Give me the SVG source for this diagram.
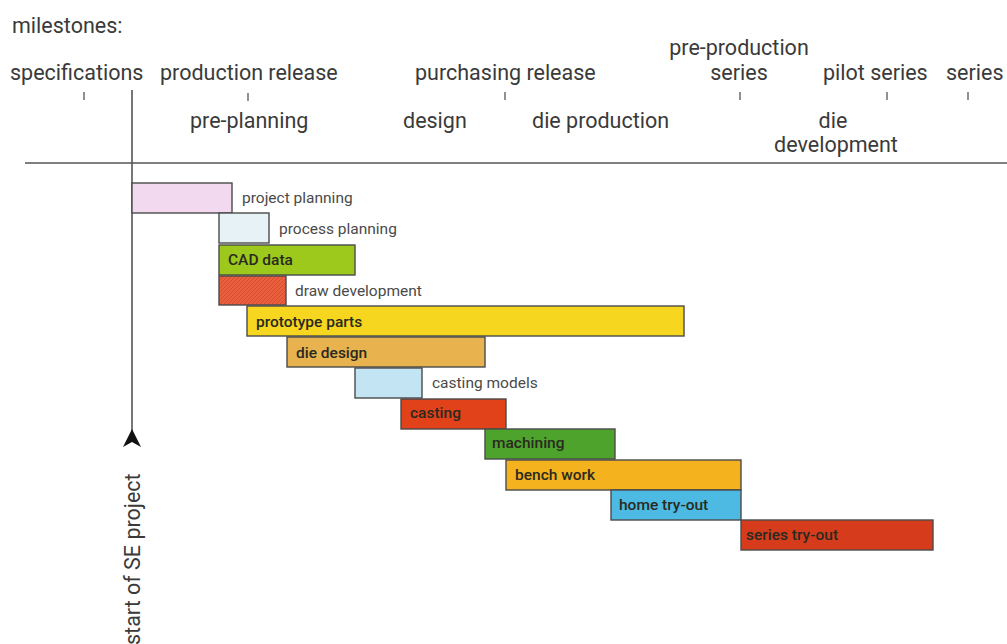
<svg xmlns="http://www.w3.org/2000/svg" width="1007" height="644" viewBox="0 0 1007 644">
<defs>
<style>
.t{font-family:Roboto,"Liberation Sans",sans-serif;fill:#3a3a3a;font-size:21.5px}
.lo{font-family:Roboto,"Liberation Sans",sans-serif;fill:#4a4a4a;font-size:15.5px}
.li{font-family:Roboto,"Liberation Sans",sans-serif;fill:#2a2a20;font-size:15.5px;font-weight:500}
.bar{stroke:#4a4a4a;stroke-width:1.4}
.tick{stroke:#555;stroke-width:1.3}
.axis{stroke:#555;stroke-width:1.6;fill:none}
</style>
<pattern id="hatch" width="4" height="4" patternUnits="userSpaceOnUse">
<rect width="4" height="4" fill="#e8603e"/>
<path d="M0 4L4 0" stroke="#d84a2c" stroke-width="1"/>
</pattern>
</defs>
<rect width="1007" height="644" fill="#ffffff"/>
<g id="milestones">
<text class="t" x="12" y="33">milestones:</text>
<text class="t" x="10" y="80">specifications</text>
<text class="t" x="160" y="80">production release</text>
<text class="t" x="415" y="80">purchasing release</text>
<text class="t" x="739" y="55" text-anchor="middle">pre-production</text>
<text class="t" x="739" y="80" text-anchor="middle">series</text>
<text class="t" x="823" y="80">pilot series</text>
<text class="t" x="946" y="80">series</text>
<text class="t" x="190" y="128">pre-planning</text>
<text class="t" x="403" y="128">design</text>
<text class="t" x="532" y="128">die production</text>
<text class="t" x="833" y="128" text-anchor="middle">die</text>
<text class="t" x="836" y="152" text-anchor="middle">development</text>
<line class="tick" x1="84" y1="92" x2="84" y2="100"/>
<line class="tick" x1="248" y1="93" x2="248" y2="101"/>
<line class="tick" x1="505" y1="92" x2="505" y2="100"/>
<line class="tick" x1="740" y1="92" x2="740" y2="100"/>
<line class="tick" x1="887" y1="92" x2="887" y2="100"/>
<line class="tick" x1="968" y1="92" x2="968" y2="100"/>
</g>
<g id="connectors">
<line class="axis" x1="25" y1="163" x2="1007" y2="163"/>
<line class="axis" x1="132" y1="90" x2="132" y2="440"/>
<path d="M132 429 L141 447 L132 442 L123 447 Z" fill="#111"/>
</g>
<g id="start">
<text class="t" transform="translate(140,645) rotate(-90)" x="0" y="0">start of SE project</text>
</g>
<g id="project-planning"><rect class="bar" x="132" y="183" width="100" height="30" fill="#f2d9f0"/><text class="lo" x="242" y="203">project planning</text></g>
<g id="process-planning"><rect class="bar" x="219" y="213" width="50" height="30" fill="#e6f2f6"/><text class="lo" x="279" y="234">process planning</text></g>
<g id="cad-data"><rect class="bar" x="219" y="245" width="136" height="30" fill="#9dc81c"/><text class="li" x="228" y="265">CAD data</text></g>
<g id="draw-development"><rect class="bar" x="219" y="276" width="67" height="29" fill="url(#hatch)"/><text class="lo" x="295" y="296">draw development</text></g>
<g id="prototype-parts"><rect class="bar" x="247" y="306" width="437" height="30" fill="#f7d61f"/><text class="li" x="256" y="327">prototype parts</text></g>
<g id="die-design"><rect class="bar" x="287" y="337" width="198" height="30" fill="#e8b24e"/><text class="li" x="296" y="358">die design</text></g>
<g id="casting-models"><rect class="bar" x="355" y="368" width="67" height="30" fill="#c3e4f3"/><text class="lo" x="432" y="388">casting models</text></g>
<g id="casting"><rect class="bar" x="401" y="399" width="105" height="30" fill="#e2421a"/><text class="li" x="410" y="418">casting</text></g>
<g id="machining"><rect class="bar" x="485" y="429" width="130" height="30" fill="#4ea32c"/><text class="li" x="492" y="448">machining</text></g>
<g id="bench-work"><rect class="bar" x="506" y="460" width="235" height="30" fill="#f4b21e"/><text class="li" x="515" y="480">bench work</text></g>
<g id="home-try-out"><rect class="bar" x="611" y="490" width="130" height="30" fill="#4cbae2"/><text class="li" x="619" y="510">home try-out</text></g>
<g id="series-try-out"><rect class="bar" x="741" y="520" width="192" height="30" fill="#d63c1c"/><text class="li" x="746" y="540">series try-out</text></g>
</svg>
